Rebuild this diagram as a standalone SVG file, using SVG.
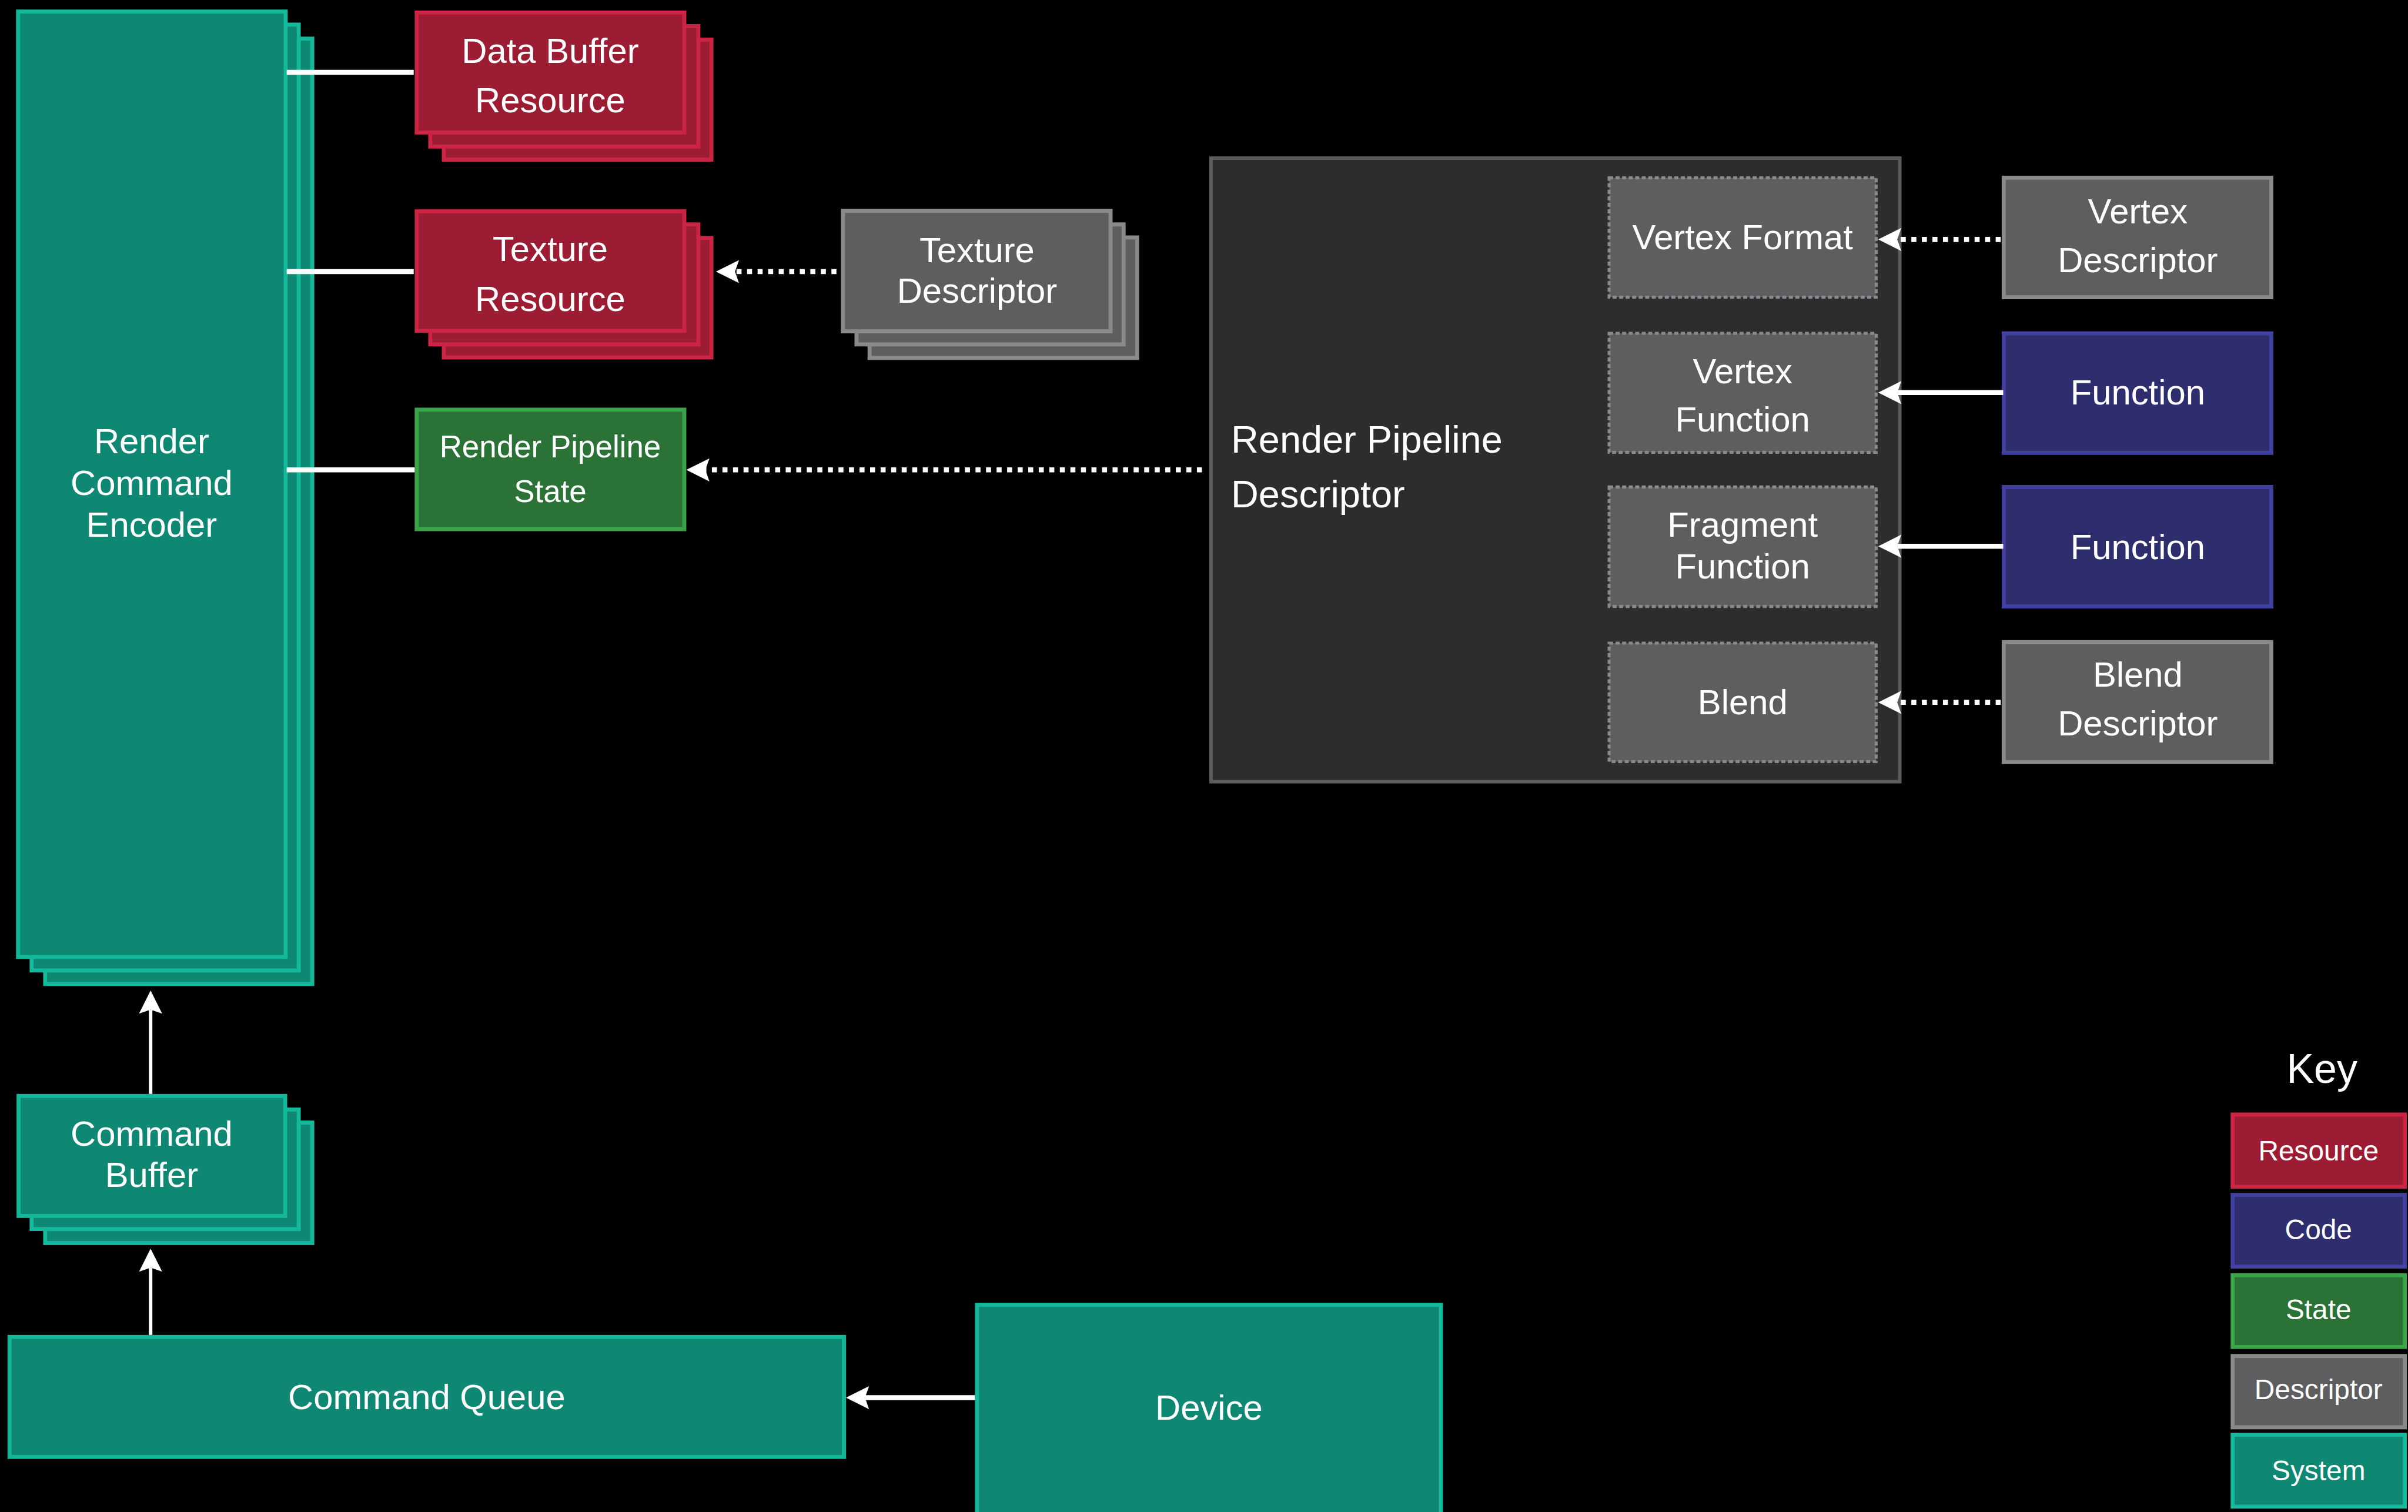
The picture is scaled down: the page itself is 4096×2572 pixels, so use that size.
<svg xmlns="http://www.w3.org/2000/svg" width="4096" height="2572" viewBox="0 0 4096 2572">
<defs>
<style>
.sys{fill:#0e8872;stroke:#14b99b;stroke-width:8}
.res{fill:#9b1c33;stroke:#cc2444;stroke-width:8}
.code{fill:#2e2d6e;stroke:#4141a1;stroke-width:8}
.state{fill:#2b7237;stroke:#3aa548;stroke-width:8}
.desc{fill:#5e5e61;stroke:#8a8a8d;stroke-width:8}
.cont{fill:#2d2d2d;stroke:#5c5c5c;stroke-width:7}
.inner{fill:#5e5e61;stroke:#8a8a8d;stroke-width:6;stroke-dasharray:8 5}
text{font-family:"Liberation Sans",Arial,sans-serif;fill:#ffffff;font-size:70px;text-anchor:middle}
.small{font-size:62px}
.big{font-size:76px;text-anchor:start}
.key{font-size:56px}
.solid{stroke:#ffffff;stroke-width:10;fill:none}
.thin{stroke:#ffffff;stroke-width:7;fill:none}
.dot{stroke:#ffffff;stroke-width:10;fill:none;stroke-dasharray:10 11}
</style>
<marker id="ah" markerUnits="userSpaceOnUse" markerWidth="50" markerHeight="50" refX="8" refY="23" orient="auto">
<path d="M0,0 L46,23 L0,46 L8,23 Z" fill="#ffffff"/>
</marker>
</defs>
<rect x="0" y="0" width="4096" height="2572" fill="#000000"/>
<g transform="scale(0.854)">
<g id="render-command-encoder">
<rect class="sys" x="90" y="77" width="532" height="1883"/>
<rect class="sys" x="63" y="49" width="532" height="1884"/>
<rect class="sys" x="36" y="23" width="533" height="1883"/>
<text x="302" y="903">Render</text>
<text x="302" y="986">Command</text>
<text x="302" y="1069">Encoder</text>
</g>
<g id="data-buffer-resource">
<rect class="res" x="884" y="79" width="533" height="239"/>
<rect class="res" x="857" y="52" width="534" height="240"/>
<rect class="res" x="830" y="25" width="533" height="239"/>
<text x="1096" y="125">Data Buffer</text>
<text x="1096" y="224">Resource</text>
</g>
<g id="texture-resource">
<rect class="res" x="884" y="474" width="533" height="238"/>
<rect class="res" x="857" y="447" width="534" height="239"/>
<rect class="res" x="830" y="421" width="533" height="238"/>
<text x="1096" y="520">Texture</text>
<text x="1096" y="620">Resource</text>
</g>
<g id="texture-descriptor">
<rect class="desc" x="1732" y="473" width="533" height="240"/>
<rect class="desc" x="1706" y="447" width="532" height="239"/>
<rect class="desc" x="1679" y="420" width="533" height="240"/>
<text x="1946" y="522">Texture</text>
<text x="1946" y="603">Descriptor</text>
</g>
<g id="render-pipeline-state">
<rect class="state" x="830" y="816" width="533" height="238"/>
<text class="small" x="1096" y="911">Render Pipeline</text>
<text class="small" x="1096" y="1000">State</text>
</g>
<g id="render-pipeline-descriptor">
<rect class="cont" x="2412" y="315" width="1372" height="1242"/>
<text class="big" x="2452" y="902">Render Pipeline</text>
<text class="big" x="2452" y="1010">Descriptor</text>
</g>
<g id="vertex-format">
<rect class="inner" x="3205" y="354" width="532" height="238"/>
<text x="3471" y="497">Vertex Format</text>
</g>
<g id="vertex-function">
<rect class="inner" x="3205" y="664" width="532" height="237"/>
<text x="3471" y="763">Vertex</text>
<text x="3471" y="860">Function</text>
</g>
<g id="fragment-function">
<rect class="inner" x="3205" y="970" width="532" height="238"/>
<text x="3471" y="1069">Fragment</text>
<text x="3471" y="1152">Function</text>
</g>
<g id="blend">
<rect class="inner" x="3205" y="1281" width="532" height="236"/>
<text x="3471" y="1423">Blend</text>
</g>
<g id="vertex-descriptor">
<rect class="desc" x="3991" y="354" width="533" height="238"/>
<text x="4258" y="445">Vertex</text>
<text x="4258" y="542">Descriptor</text>
</g>
<g id="function-1">
<rect class="code" x="3991" y="664" width="533" height="238"/>
<text x="4258" y="806">Function</text>
</g>
<g id="function-2">
<rect class="code" x="3991" y="970" width="533" height="238"/>
<text x="4258" y="1113">Function</text>
</g>
<g id="blend-descriptor">
<rect class="desc" x="3991" y="1279" width="533" height="239"/>
<text x="4258" y="1368">Blend</text>
<text x="4258" y="1465">Descriptor</text>
</g>
<g id="command-buffer">
<rect class="sys" x="90" y="2236" width="532" height="240"/>
<rect class="sys" x="63" y="2210" width="532" height="238"/>
<rect class="sys" x="37" y="2183" width="531" height="239"/>
<text x="302" y="2282">Command</text>
<text x="302" y="2364">Buffer</text>
</g>
<g id="command-queue">
<rect class="sys" x="19" y="2663" width="1662" height="239"/>
<text x="850" y="2807">Command Queue</text>
</g>
<g id="device">
<rect class="sys" x="1946" y="2599" width="924" height="440"/>
<text x="2408" y="2828">Device</text>
</g>
<g id="key">
<text x="4625" y="2157" style="font-size:82px">Key</text>
<rect class="res" x="4447" y="2220" width="343" height="144"/>
<text class="key" x="4618" y="2311">Resource</text>
<rect class="code" x="4447" y="2380" width="343" height="143"/>
<text class="key" x="4618" y="2468">Code</text>
<rect class="state" x="4447" y="2540" width="343" height="143"/>
<text class="key" x="4618" y="2628">State</text>
<rect class="desc" x="4447" y="2701" width="343" height="142"/>
<text class="key" x="4618" y="2787">Descriptor</text>
<rect class="sys" x="4447" y="2858" width="343" height="143"/>
<text class="key" x="4618" y="2949">System</text>
</g>
<g id="connectors">
<line class="solid" x1="571" y1="144" x2="824" y2="144"/>
<line class="solid" x1="571" y1="541" x2="824" y2="541"/>
<line class="solid" x1="571" y1="936" x2="826" y2="936"/>
<line class="dot" x1="1666" y1="541" x2="1464" y2="541" marker-end="url(#ah)"/>
<line class="dot" x1="2394" y1="936" x2="1405" y2="936" marker-end="url(#ah)"/>
<line class="dot" x1="3985" y1="477" x2="3779" y2="477" marker-end="url(#ah)"/>
<line class="solid" x1="3990" y1="782" x2="3779" y2="782" marker-end="url(#ah)"/>
<line class="solid" x1="3990" y1="1088" x2="3779" y2="1088" marker-end="url(#ah)"/>
<line class="dot" x1="3985" y1="1399" x2="3779" y2="1399" marker-end="url(#ah)"/>
<line class="thin" x1="300" y1="2179" x2="300" y2="2011" marker-end="url(#ah)"/>
<line class="thin" x1="300" y1="2659" x2="300" y2="2525" marker-end="url(#ah)"/>
<line class="solid" x1="1942" y1="2784" x2="1723" y2="2784" marker-end="url(#ah)"/>
</g>
</g>
</svg>
